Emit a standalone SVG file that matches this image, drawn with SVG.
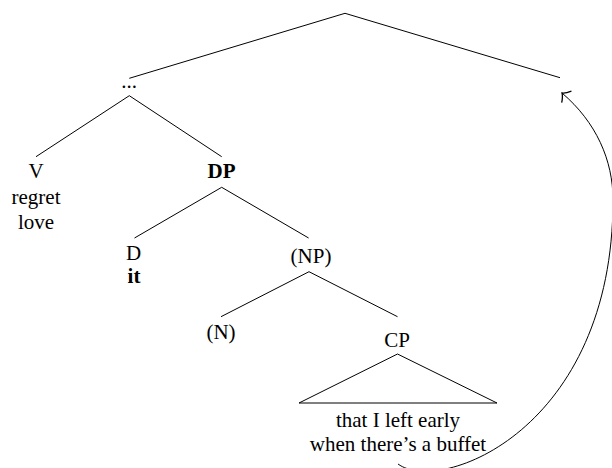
<svg xmlns="http://www.w3.org/2000/svg" width="612" height="468" viewBox="0 0 612 468">
<defs>
<style>
text{font-family:"Liberation Serif","Times New Roman",serif;font-size:21px;fill:#000;text-anchor:middle}
.b{font-weight:bold}
.e{stroke:#000;stroke-width:1;fill:none}
</style>
<marker id="arr" viewBox="0 0 20 20" refX="10" refY="10" markerWidth="20" markerHeight="20" markerUnits="userSpaceOnUse" orient="auto">
<path d="M4 2.5 Q7 8 10 10 Q7 12 4 17.5" fill="none" stroke="#000" stroke-width="1.3"/>
</marker>
</defs>
<rect width="612" height="468" fill="#fff"/>
<g id="edges">
<path class="e" d="M345 13.3 L129.3 78.3 M345 13.3 L560 77.7"/>
<path class="e" d="M129.3 95.7 L36 156.7 M129.3 95.7 L221.7 156.7"/>
<path class="e" d="M221.7 187.3 L134.5 238 M221.7 187.3 L308.6 238"/>
<path class="e" d="M309 271.7 L221 316.7 M309 271.7 L397.5 316.7"/>
<path class="e" d="M397.5 354 L299 403 L497 403 Z"/>
<path class="e" d="M398 464 C440 495 613 430 613 200 C613 160 596 122 562 93" stroke-width="1.3" marker-end="url(#arr)"/>
</g>
<g id="n-dots"><text x="129" y="88">...</text></g>
<g id="n-V"><text x="36" y="178">V</text><text x="36" y="203.5">regret</text><text x="36" y="229">love</text></g>
<g id="n-DP"><text class="b" x="221.5" y="178">DP</text></g>
<g id="n-D"><text x="133.5" y="260">D</text><text class="b" x="134" y="283.3">it</text></g>
<g id="n-NP"><text x="311" y="263">(NP)</text></g>
<g id="n-N"><text x="221" y="339">(N)</text></g>
<g id="n-CP"><text x="397" y="347">CP</text></g>
<g id="n-CPtext"><text x="398" y="427">that I left early</text><text x="398" y="451">when there’s a buffet</text></g>
</svg>
